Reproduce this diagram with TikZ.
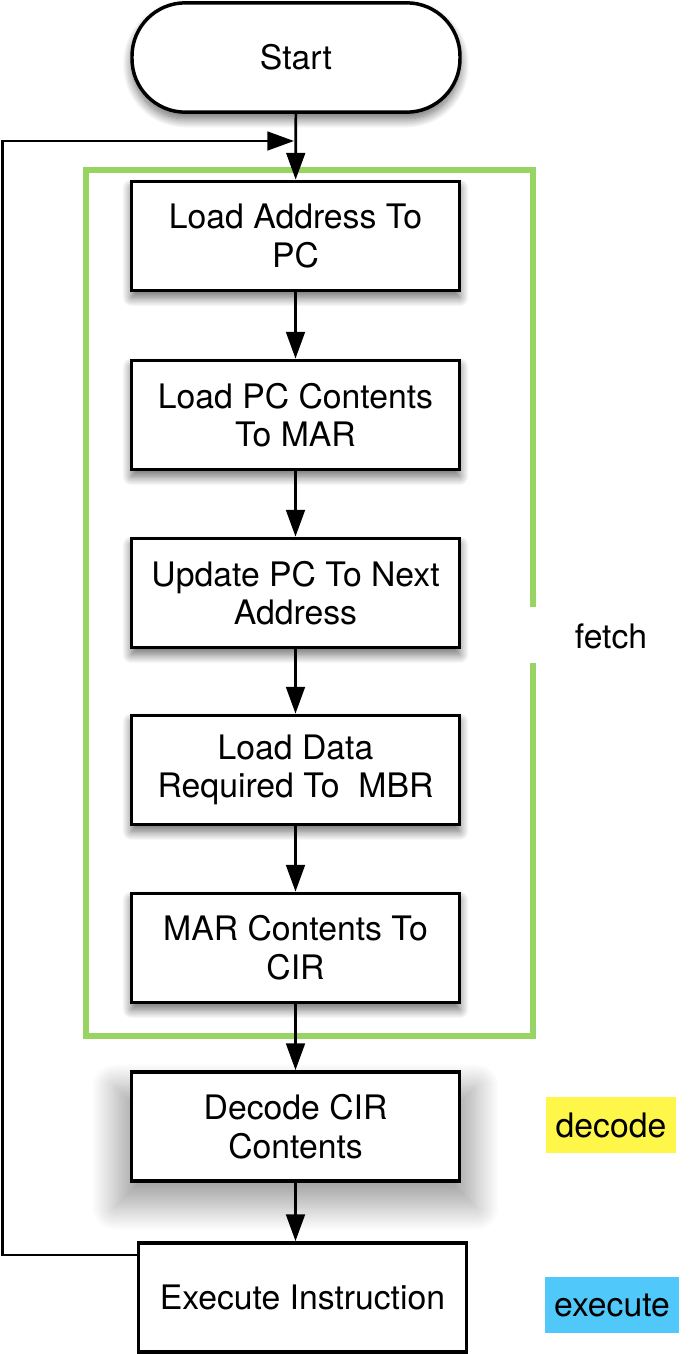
\documentclass[tikz,border=0pt]{standalone}
\usepackage{fontspec}
\setmainfont{TeX Gyre Heros}
\usetikzlibrary{arrows.meta,shadows.blur}

\definecolor{fetchgreen}{RGB}{152,212,98}
\definecolor{decodeyellow}{RGB}{255,246,74}
\definecolor{executeblue}{RGB}{80,200,250}

\tikzset{every picture/.style={line width=0.75pt}}
\tikzset{
  txt/.style={font=\fontsize{25.3}{29}\selectfont, align=center},
  stepbox/.style={txt, draw, line width=2.6pt, fill=white, minimum width=246pt, minimum height=82pt, inner sep=0pt},
  shadowed/.style={blur shadow={shadow xshift=0pt, shadow yshift=-5pt, shadow blur radius=7pt, shadow blur steps=16, shadow opacity=60}},
  bigshadow/.style={blur shadow={shadow xshift=0pt, shadow yshift=-14pt, shadow scale=1.1, shadow blur radius=16pt, shadow blur steps=24, shadow opacity=35}},
  terminal/.style={stepbox, rounded corners=40pt},
  phase/.style={txt, inner xsep=7pt, inner ysep=0pt, minimum height=42pt},
  flow/.style={line width=2pt, -{Triangle[length=20pt,width=14pt]}}
}

\begin{document}
\begin{tikzpicture}[x=0.75pt,y=0.75pt,yscale=-1,xscale=1]
\useasboundingbox (0,0) rectangle (700,1354);

%Start
\node [terminal, shadowed] (start) at (296,57.5) {Start};
%Fetch steps
\node [stepbox, shadowed] (ldaddr) at (295.5,236) {Load Address To\\PC};
\node [stepbox, shadowed] (ldpc) at (295.5,415) {Load PC Contents\\To MAR};
\node [stepbox, shadowed] (updpc) at (295.5,593) {Update PC To Next\\Address};
\node [stepbox, shadowed] (lddata) at (295.5,770) {Load Data\\Required To~ MBR};
\node [stepbox, shadowed] (marcir) at (295.5,948) {MAR Contents To\\CIR};
%Decode and execute
\node [stepbox, bigshadow] (decode) at (295.5,1126.5) {Decode CIR\\Contents};
\node [stepbox] (exec) at (302.5,1297.5) {Execute Instruction};

% Phase labels
\node [txt] (fetchlbl) at (611,636) {fetch};
\node [phase, fill=decodeyellow] (decodelbl) at (611,1125) {decode};
\node [phase, fill=executeblue] (execlbl) at (612,1305) {execute};

%Fetch frame (open where the label sits)
\draw [color=fetchgreen, line width=4.4pt] (533,607) -- (533,170) -- (86,170) -- (86,1036) -- (533,1036) -- (533,663);

%Connectors
\coordinate (loopin) at (294,141);
\draw [flow] (start) -- (ldaddr);
\draw [flow] (ldaddr) -- (ldpc);
\draw [flow] (ldpc) -- (updpc);
\draw [flow] (updpc) -- (lddata);
\draw [flow] (lddata) -- (marcir);
\draw [flow] (marcir) -- (decode);
\draw [flow] (decode.south) -- (decode.south |- exec.north);
\draw [flow] ([yshift=10.5pt]exec.north west) -- ++(-134,0) |- (loopin);

\end{tikzpicture}
\end{document}
